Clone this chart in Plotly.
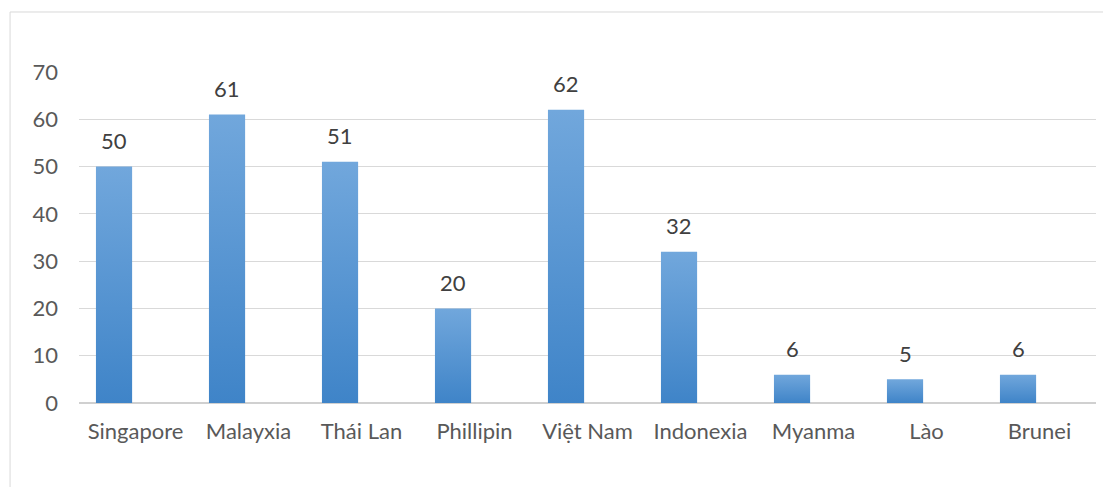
import plotly.graph_objects as go

# Số liệu theo quốc gia
countries = ["Singapore", "Malayxia", "Thái Lan", "Phillipin", "Việt Nam",
             "Indonexia", "Myanma", "Lào", "Brunei"]
values = [50, 61, 51, 20, 62, 32, 6, 5, 6]
y_ticks = [0, 10, 20, 30, 40, 50, 60, 70]

FONT = "Lato"
FONT_SIZE = 22
BAR_LEFT = -0.35   # bar offset from the category centre
BAR_WIDTH = 0.32

fig = go.Figure()

# each column is a filled polygon so it can carry its own vertical gradient
for i, v in enumerate(values):
    x0 = i + BAR_LEFT
    x1 = x0 + BAR_WIDTH
    fig.add_trace(go.Scatter(
        x=[x0, x0, x1, x1, x0],
        y=[0, v, v, 0, 0],
        mode="lines",
        line=dict(width=0, color="rgba(0,0,0,0)"),
        fill="toself",
        fillgradient=dict(type="vertical",
                          colorscale=[[0, "#3f84c8"], [1, "#71a7dc"]]),
        hoverinfo="skip",
        showlegend=False,
    ))
    fig.add_annotation(
        x=i + BAR_LEFT + BAR_WIDTH / 2, y=v,
        text=str(v), showarrow=False,
        yanchor="middle", yshift=26,
        font=dict(family=FONT, size=FONT_SIZE, color="#404040"),
    )

# outer chart frame
fig.add_shape(type="rect", xref="paper", yref="paper",
              x0=-0.0678, x1=1.02, y0=-0.27, y1=1.1813,
              line=dict(color="#d9d9d9", width=1), fillcolor="rgba(0,0,0,0)",
              layer="below")

fig.update_layout(
    width=1103, height=487,
    margin=dict(l=79, r=7, t=72, b=84),
    paper_bgcolor="white", plot_bgcolor="white",
    xaxis=dict(
        range=[-0.5, len(countries) - 0.5],
        tickmode="array", tickvals=list(range(len(countries))),
        ticktext=countries, showgrid=False, zeroline=False,
        showline=False, ticks="", ticklabelstandoff=13,
        tickfont=dict(family=FONT, size=FONT_SIZE, color="#595959"),
    ),
    yaxis=dict(
        range=[0, 70], tickmode="array", tickvals=y_ticks,
        showgrid=True, gridcolor="#d9d9d9", gridwidth=1,
        zeroline=True, zerolinecolor="#d0d0d0", zerolinewidth=1.5,
        showline=False, ticks="", ticklabelstandoff=20,
        tickfont=dict(family=FONT, size=FONT_SIZE, color="#595959"),
    ),
)

fig.write_html("out.html")
